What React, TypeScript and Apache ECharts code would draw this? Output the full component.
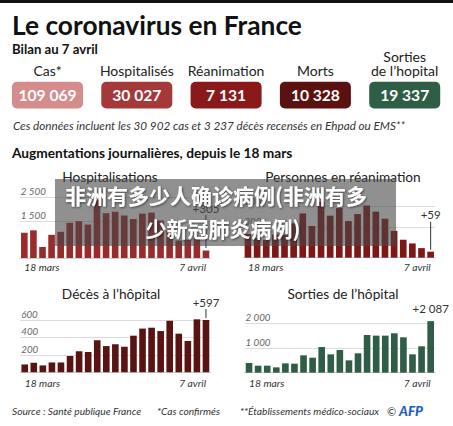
import React, { useEffect, useRef } from "react";
import * as echarts from "echarts";

const categories = [
  "18 mars", "19 mars", "20 mars", "21 mars", "22 mars", "23 mars", "24 mars",
  "25 mars", "26 mars", "27 mars", "28 mars", "29 mars", "30 mars", "31 mars",
  "1 avril", "2 avril", "3 avril", "4 avril", "5 avril", "6 avril", "7 avril",
];

const hospitalisations = [1033, 1129, 449, 946, 1068, 1433, 1503, 1363, 2365, 1828, 1888, 1734, 1592, 1811, 1850, 1530, 1130, 711, 748, 831, 305];
const reanimation = [232, 191, 175, 228, 221, 336, 434, 311, 548, 412, 486, 359, 428, 512, 452, 382, 263, 176, 140, 94, 59];
const deces = [89, 108, 78, 112, 112, 186, 240, 231, 365, 299, 319, 292, 418, 499, 509, 471, 588, 441, 357, 605, 597];
const sorties = [392, 284, 284, 216, 378, 365, 703, 608, 1041, 743, 919, 500, 784, 1527, 1500, 1500, 1595, 1432, 743, 1068, 2087];

const hospTicks = [1500, 2500];
const reaTicks = [300, 500];
const decesTicks = [200, 400, 600];
const sortiesTicks = [1000, 2000];

const chartTitles = ["Hospitalisations", "Personnes en réanimation", "Décès à l’hôpital", "Sorties de l’hôpital"];

const headerLabels = ["Cas*", "Hospitalisés", "Réanimation", "Morts", "Sorties\nde l’hopital"];
const headerValues = ["109 069", "30 027", "7 131", "10 328", "19 337"];

const titleText = "Le coronavirus en France";
const subtitleText = "Bilan au 7 avril";
const noteText = "Ces données incluent les 30 902 cas et 3 237 décès recensés en Ehpad ou EMS**";
const sectionText = "Augmentations journalières, depuis le 18 mars";
const footerTexts = ["Source : Santé publique France", "*Cas confirmés", "**Établissements médico-sociaux"];
const bannerLines = ["非洲有多少人确诊病例(非洲有多", "少新冠肺炎病例)"];

// styles
const FONT = 'Lato, "Noto Sans", sans-serif';
const CJK = '"Noto Sans CJK SC", sans-serif';
const boxColors = ["#d58c8c", "#a5393a", "#8a1a1a", "#5c1111", "#2e5e46"];
const barColors = ["#9a2b2b", "#7f1717", "#5a1313", "#2f5d45"];

const fmt = (v: number) => String(v).replace(/\B(?=(\d{3})+(?!\d))/g, " ");

const grids = [
  { left: 19.8, top: 189.4, width: 190.7, height: 68.6 },
  { left: 243.4, top: 196.5, width: 191.8, height: 61.2 },
  { left: 20.2, top: 311, width: 190.3, height: 61.25 },
  { left: 244.5, top: 313.4, width: 190.7, height: 59.3 },
];
const yMax = [2800, 600, 700, 2400];
const labelMargin = [4, 4, 5.5, 5.5];
const annLine = [33, 28, 9, 0];
const annGap = [2.5, 2, 2, 6];
const titlePos = [
  [110, 176],
  [343, 176],
  [111, 293],
  [343, 293],
];

function buildOption() {
  const seriesData = [hospitalisations, reanimation, deces, sorties];
  const ticks = [hospTicks, reaTicks, decesTicks, sortiesTicks];
  const last = categories.length - 1;

  const xAxis = grids.map((_, i) => ({
    type: "category",
    gridIndex: i,
    data: categories,
    axisTick: { show: false },
    axisLine: { show: true, lineStyle: { color: "#cfcfcf", width: 1 } },
    axisLabel: {
      interval: (idx: number) => idx === 0 || idx === last,
      alignMinLabel: "left",
      alignMaxLabel: "right",
      margin: labelMargin[i],
      fontSize: 10.3,
      fontStyle: "italic",
      fontFamily: FONT,
      color: "#333",
    },
  }));

  const yAxis = grids.map((_, i) => ({
    type: "value",
    gridIndex: i,
    min: 0,
    max: yMax[i],
    splitLine: { show: false },
    axisLine: { show: false },
    axisTick: { show: false },
    axisLabel: { show: false },
  }));

  const series = seriesData.map((data, i) => {
    const L = annLine[i];
    const g = annGap[i];
    return {
      type: "bar",
      xAxisIndex: i,
      yAxisIndex: i,
      data,
      z: 2,
      barCategoryGap: "27%",
      itemStyle: { color: barColors[i] },
      emphasis: { disabled: true },
      markLine: {
        z: 1,
        silent: true,
        symbol: "none",
        lineStyle: { color: "#dcdcdc", width: 1, type: "solid" },
        label: {
          position: "insideStartTop",
          distance: 1,
          formatter: (p: any) => fmt(p.value),
          color: "#666",
          fontSize: 9.8,
          fontStyle: "italic",
          fontFamily: FONT,
        },
        data: ticks[i].map((v) => ({ yAxis: v })),
      },
      markPoint: {
        silent: true,
        symbol: "rect",
        symbolSize: [1, Math.max(L, 0.01)],
        symbolOffset: [0, -(L / 2 + g)],
        itemStyle: { color: L > 0 ? "#333" : "rgba(0,0,0,0)" },
        label: {
          show: true,
          position: "top",
          distance: 1,
          formatter: "+" + fmt(data[last]),
          color: "#333",
          fontSize: 11.5,
          fontFamily: FONT,
        },
        data: [{ coord: [categories[last], data[last]] }],
      },
    };
  });

  const graphic: any[] = [];
  graphic.push({ type: "rect", shape: { x: 0, y: 0, width: 453, height: 3 }, style: { fill: "#111" } });
  graphic.push({
    type: "text", x: 12, y: 25,
    style: { text: titleText, fill: "#111", font: `bold 26.3px ${FONT}`, align: "left", verticalAlign: "middle" },
  });
  graphic.push({
    type: "text", x: 12, y: 49,
    style: { text: subtitleText, fill: "#111", font: `bold 13.2px ${FONT}`, align: "left", verticalAlign: "middle" },
  });
  headerLabels.forEach((lab, i) => {
    const x0 = 12 + i * 89.3;
    const cx = x0 + 35.5;
    graphic.push({
      type: "text", x: cx, y: 78,
      style: { text: lab, fill: "#222", font: `14px ${FONT}`, align: "center", verticalAlign: "bottom", lineHeight: 14.3 },
    });
    graphic.push({
      type: "rect", shape: { x: x0, y: 81.7, width: 71, height: 26.7, r: 5 },
      style: { fill: boxColors[i] },
    });
    graphic.push({
      type: "text", x: cx, y: 95.3,
      style: { text: headerValues[i], fill: "#fff", font: `bold 15.6px ${FONT}`, align: "center", verticalAlign: "middle" },
    });
  });
  graphic.push({
    type: "text", x: 13, y: 125,
    style: { text: noteText, fill: "#333", font: `italic 11.7px ${FONT}`, align: "left", verticalAlign: "middle" },
  });
  graphic.push({
    type: "text", x: 12, y: 152,
    style: { text: sectionText, fill: "#111", font: `bold 13.7px ${FONT}`, align: "left", verticalAlign: "middle" },
  });
  chartTitles.forEach((t, i) => {
    graphic.push({
      type: "text", x: titlePos[i][0], y: titlePos[i][1],
      style: { text: t, fill: "#222", font: `13.7px ${FONT}`, align: "center", verticalAlign: "middle" },
    });
  });
  const footerX = [12, 157, 240];
  footerTexts.forEach((t, i) => {
    graphic.push({
      type: "text", x: footerX[i], y: 411,
      style: { text: t, fill: "#333", font: `italic 10.2px ${FONT}`, align: "left", verticalAlign: "middle" },
    });
  });
  graphic.push({
    type: "text", x: 387, y: 411,
    style: { text: "©", fill: "#333", font: `11px ${FONT}`, align: "left", verticalAlign: "middle" },
  });
  graphic.push({
    type: "text", x: 399, y: 411,
    style: { text: "AFP", fill: "#1d5cc0", font: `italic 900 13.5px ${FONT}`, align: "left", verticalAlign: "middle" },
  });
  // overlay banner
  graphic.push({
    type: "rect", z: 100, shape: { x: 55, y: 179, width: 341, height: 67 },
    style: { fill: "rgba(70,70,70,0.6)" },
  });
  const bannerPos = [
    [216, 195],
    [223, 228],
  ];
  bannerLines.forEach((t, i) => {
    graphic.push({
      type: "text", z: 101, x: bannerPos[i][0], y: bannerPos[i][1],
      style: {
        text: t, fill: "#fff", font: `bold 21px ${CJK}`, align: "center", verticalAlign: "middle",
        textShadowColor: "rgba(0,0,0,0.5)", textShadowBlur: 2, textShadowOffsetX: 1, textShadowOffsetY: 1,
      },
    });
  });

  return {
    animation: false,
    backgroundColor: "#fff",
    grid: grids,
    xAxis,
    yAxis,
    series,
    graphic,
  };
}

export default function App() {
  const ref = useRef<HTMLDivElement>(null);
  useEffect(() => {
    const chart = echarts.init(ref.current!, null, { renderer: "svg" });
    chart.setOption(buildOption() as any);
    return () => chart.dispose();
  }, []);
  return (
    <div
      ref={ref}
      style={{ position: "absolute", left: 0, top: 0, width: 453, height: 426, background: "#fff" }}
    />
  );
}
